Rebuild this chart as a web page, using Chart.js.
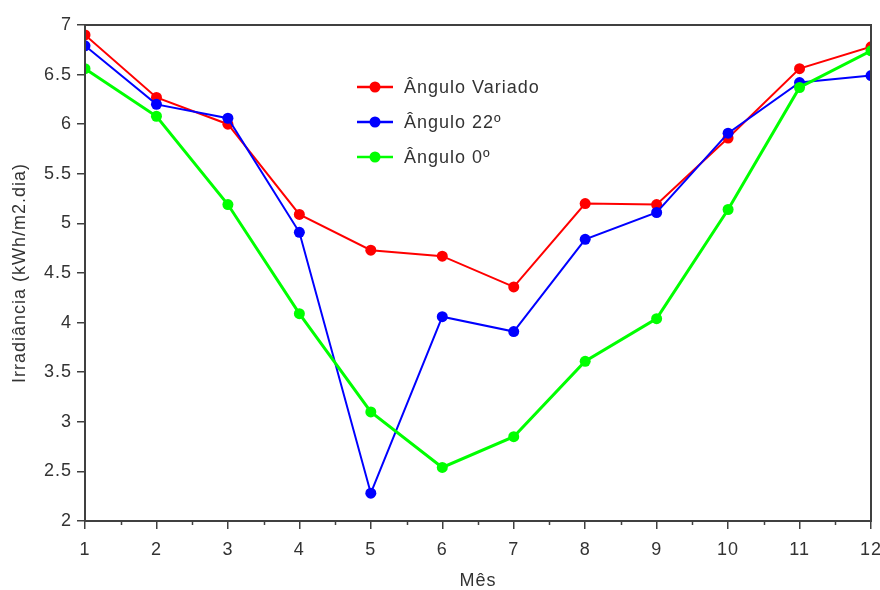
<!DOCTYPE html>
<html>
<head>
<meta charset="utf-8">
<script src="https://cdn.jsdelivr.net/npm/chart.js@4.4.1/dist/chart.umd.min.js"></script>
<style>
  html, body { margin: 0; padding: 0; background: #fff; }
  #wrap { width: 880px; height: 590px; }
</style>
</head>
<body>
<div id="wrap"><canvas id="chart"></canvas></div>
<script>
const months = [1, 2, 3, 4, 5, 6, 7, 8, 9, 10, 11, 12];
const monthHalfTicks = [1.5, 2.5, 3.5, 4.5, 5.5, 6.5, 7.5, 8.5, 9.5, 10.5, 11.5];
const yTicks = [2, 2.5, 3, 3.5, 4, 4.5, 5, 5.5, 6, 6.5, 7];

const seriesNames = ["Ângulo Variado", "Ângulo 22º", "Ângulo 0º"];
const anguloVariado = [6.90, 6.27, 6.00, 5.09, 4.73, 4.67, 4.36, 5.20, 5.19, 5.86, 6.56, 6.78];
const angulo22 = [6.79, 6.20, 6.06, 4.91, 2.28, 4.06, 3.91, 4.84, 5.11, 5.91, 6.42, 6.49];
const angulo0 = [6.56, 6.08, 5.19, 4.09, 3.10, 2.54, 2.85, 3.61, 4.04, 5.14, 6.37, 6.74];

const INK = "#333333";
const FONT = { family: "'Liberation Sans', Arial, sans-serif", size: 18 };

function pts(vals) {
    return months.map(function (m, i) { return { x: m, y: vals[i] }; });
}

function series(label, vals, color, width, order) {
    return {
        label: label,
        data: pts(vals),
        borderColor: color,
        backgroundColor: color,
        pointBackgroundColor: color,
        pointBorderColor: color,
        borderWidth: width,
        pointRadius: 5.5,
        pointBorderWidth: 0,
        tension: 0,
        order: order,
    };
}

// canvas letter spacing so text width matches the original renderer
const spacing = {
    id: "spacing",
    beforeUpdate(chart) { chart.ctx.letterSpacing = "1px"; },
    beforeDraw(chart) { chart.ctx.letterSpacing = "1px"; },
};

// box round the plot + minor ticks on the month axis
const frame = {
    id: "frame",
    afterDraw(chart) {
        const a = chart.chartArea;
        const ctx = chart.ctx;
        const xs = chart.scales.x;
        ctx.save();
        ctx.strokeStyle = "#404040";
        ctx.lineWidth = 2;
        ctx.strokeRect(a.left, a.top, a.right - a.left, a.bottom - a.top);
        ctx.lineWidth = 1.5;
        ctx.beginPath();
        monthHalfTicks.forEach(function (v) {
            const px = Math.round(xs.getPixelForValue(v)) + 0.5;
            ctx.moveTo(px, a.bottom);
            ctx.lineTo(px, a.bottom + 4);
        });
        ctx.stroke();
        ctx.restore();
    },
};

// legend inside the plot: short line with a dot, then the name
const legendBox = {
    id: "legendBox",
    afterDatasetsDraw(chart) {
        const ctx = chart.ctx;
        const ds = chart.data.datasets;
        ctx.save();
        ctx.letterSpacing = "1px";
        ctx.font = FONT.size + "px " + FONT.family;
        ctx.textBaseline = "middle";
        ds.forEach(function (d, i) {
            const y = 87 + i * 35;
            ctx.strokeStyle = d.borderColor;
            ctx.lineWidth = 2.5;
            ctx.beginPath();
            ctx.moveTo(357, y);
            ctx.lineTo(393, y);
            ctx.stroke();
            ctx.fillStyle = d.borderColor;
            ctx.beginPath();
            ctx.arc(375, y, 5.5, 0, Math.PI * 2);
            ctx.fill();
            ctx.fillStyle = INK;
            ctx.fillText(d.label, 404, y + 1);
        });
        ctx.restore();
    },
};

new Chart(document.getElementById("chart"), {
    type: "line",
    data: {
        datasets: [
            series(seriesNames[0], anguloVariado, "#ff0000", 2, 2),
            series(seriesNames[1], angulo22, "#0000ff", 2, 1),
            series(seriesNames[2], angulo0, "#00ff00", 3, 0),
        ],
    },
    options: {
        responsive: true,
        maintainAspectRatio: false,
        animation: false,
        layout: { padding: { top: 25, right: 9, left: 0, bottom: 0 } },
        plugins: { legend: { display: false }, tooltip: { enabled: false } },
        scales: {
            x: {
                type: "linear",
                min: 1,
                max: 12,
                afterBuildTicks: function (s) { s.ticks = months.map(function (v) { return { value: v }; }); },
                afterFit: function (s) { s.height = 69; s.paddingLeft = 0; s.paddingRight = 0; },
                grid: { drawOnChartArea: false, drawTicks: true, tickLength: 8, tickColor: "#404040", lineWidth: 1.5 },
                border: { display: false },
                ticks: { color: INK, font: FONT, padding: 10, maxRotation: 0, callback: function (v) { return String(v); } },
                title: { display: true, text: "Mês", color: INK, font: Object.assign({ lineHeight: 1 }, FONT), padding: { top: 0, bottom: 0 } },
            },
            y: {
                min: 2,
                max: 7,
                afterBuildTicks: function (s) { s.ticks = yTicks.map(function (v) { return { value: v }; }); },
                afterFit: function (s) { s.width = 85; s.paddingTop = 0; s.paddingBottom = 0; },
                grid: { drawOnChartArea: false, drawTicks: true, tickLength: 8, tickColor: "#404040", lineWidth: 1.5 },
                border: { display: false },
                ticks: { color: INK, font: FONT, padding: 5, callback: function (v) { return String(v); } },
                title: { display: true, text: "Irradiância (kWh/m2.dia)", color: INK, font: FONT, padding: { top: 9, bottom: 0 } },
            },
        },
    },
    plugins: [spacing, frame, legendBox],
});
</script>
</body>
</html>
